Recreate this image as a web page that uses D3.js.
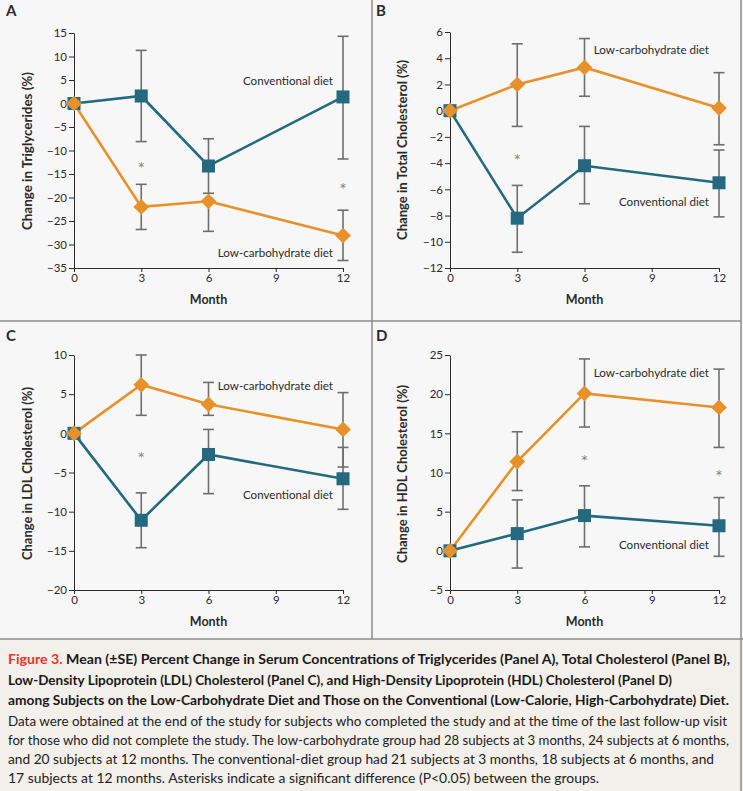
<!DOCTYPE html>
<html>
<head>
<meta charset="utf-8">
<script src="https://cdn.jsdelivr.net/npm/d3@7"></script>
<style>
  body { margin: 0; background: #fff; }
  svg { display: block; font-family: Lato, "Open Sans", sans-serif; }
</style>
</head>
<body>
<svg id="fig" width="743" height="791"></svg>
<script>
// data
const months = [0, 3, 6, 12];
const monthTicks = [0, 3, 6, 9, 12];

// Panel A - triglycerides
const tgLow = [0, -22.0, -20.8, -28.1];
const tgLowHi = [null, -17.2, null, -22.7];
const tgLowLo = [null, -26.8, -27.2, -33.4];
const tgConv = [0, 1.6, -13.3, 1.4];
const tgConvHi = [null, 11.3, -7.5, 14.3];
const tgConvLo = [null, -8.1, -19.1, -11.8];
const tgStars = [[3, -13], [12, -17.5]];
const tgTicks = [-35, -30, -25, -20, -15, -10, -5, 0, 5, 10, 15];

// Panel B - total cholesterol
const tcLow = [0, 2.0, 3.3, 0.2];
const tcLowHi = [null, 5.1, 5.5, 2.9];
const tcLowLo = [null, -1.2, 1.1, -2.6];
const tcConv = [0, -8.2, -4.2, -5.5];
const tcConvHi = [null, -5.7, -1.2, -3.0];
const tcConvLo = [null, -10.8, -7.1, -8.1];
const tcStars = [[3, -3.5]];
const tcTicks = [-12, -10, -8, -6, -4, -2, 0, 2, 4, 6];

// Panel C - LDL
const ldlLow = [0, 6.2, 3.7, 0.5];
const ldlLowHi = [null, 10.0, 6.5, 5.2];
const ldlLowLo = [null, 2.3, 2.3, -4.3];
const ldlConv = [0, -11.1, -2.7, -5.8];
const ldlConvHi = [null, -7.6, 0.5, -1.8];
const ldlConvLo = [null, -14.6, -7.7, -9.7];
const ldlStars = [[3, -2.8]];
const ldlTicks = [-20, -15, -10, -5, 0, 5, 10];

// Panel D - HDL
const hdlLow = [0, 11.4, 20.1, 18.3];
const hdlLowHi = [null, 15.2, 24.5, 23.2];
const hdlLowLo = [null, 7.7, 15.8, 13.2];
const hdlConv = [0, 2.2, 4.5, 3.2];
const hdlConvHi = [null, 6.5, 8.3, 6.8];
const hdlConvLo = [null, -2.2, 0.5, -0.7];
const hdlStars = [[6, 11.9], [12, 9.9]];
const hdlTicks = [-5, 0, 5, 10, 15, 20, 25];

const captionBold = [
  "Mean (±SE) Percent Change in Serum Concentrations of Triglycerides (Panel A), Total Cholesterol (Panel B),",
  "Low-Density Lipoprotein (LDL) Cholesterol (Panel C), and High-Density Lipoprotein (HDL) Cholesterol (Panel D)",
  "among Subjects on the Low-Carbohydrate Diet and Those on the Conventional (Low-Calorie, High-Carbohydrate) Diet."
];
const captionText = [
  "Data were obtained at the end of the study for subjects who completed the study and at the time of the last follow-up visit",
  "for those who did not complete the study. The low-carbohydrate group had 28 subjects at 3 months, 24 subjects at 6 months,",
  "and 20 subjects at 12 months. The conventional-diet group had 21 subjects at 3 months, 18 subjects at 6 months, and",
  "17 subjects at 12 months. Asterisks indicate a significant difference (P<0.05) between the groups."
];

const orange = "#e8912a";
const teal = "#236a80";
const barColor = "#6e6e6e";
const ink = "#2b2b2b";

const svg = d3.select("#fig");

// backgrounds and frame
svg.append("rect").attr("x", 0).attr("y", 0).attr("width", 743).attr("height", 639).attr("fill", "#f7f7f7");
svg.append("rect").attr("x", 0).attr("y", 639).attr("width", 743).attr("height", 152).attr("fill", "#f3efea");
const frame = svg.append("g").attr("stroke", "#8c8c8c").attr("stroke-width", 1.5);
frame.append("line").attr("x1", 372).attr("x2", 372).attr("y1", 0).attr("y2", 639);
frame.append("line").attr("x1", 0).attr("x2", 741).attr("y1", 321).attr("y2", 321);
frame.append("line").attr("x1", 741).attr("x2", 741).attr("y1", 0).attr("y2", 791);
frame.append("line").attr("x1", 0).attr("x2", 743).attr("y1", 639).attr("y2", 639);

const panels = [
  {letter: "A", ox: 0, oy: 0, left: 74, right: 343, top: 33, bottom: 268,
   title: "Change in Triglycerides (%)", titleLen: 158, titleX: 28, titleY: 151,
   domain: [-35, 15], ticks: tgTicks,
   low: [tgLow, tgLowHi, tgLowLo], conv: [tgConv, tgConvHi, tgConvLo], stars: tgStars,
   lowLabel: -31.9, convLabel: 4.9},
  {letter: "B", ox: 370, oy: 0, left: 80, right: 349, top: 32, bottom: 268,
   title: "Change in Total Cholesterol (%)", titleLen: 180, titleX: 33, titleY: 150,
   domain: [-12, 6], ticks: tcTicks,
   low: [tcLow, tcLowHi, tcLowLo], conv: [tcConv, tcConvHi, tcConvLo], stars: tcStars,
   lowLabel: 4.65, convLabel: -6.95},
  {letter: "C", ox: 0, oy: 320, left: 74, right: 343, top: 35, bottom: 270,
   title: "Change in LDL Cholesterol (%)", titleLen: 173, titleX: 28, titleY: 153.5,
   domain: [-20, 10], ticks: ldlTicks,
   low: [ldlLow, ldlLowHi, ldlLowLo], conv: [ldlConv, ldlConvHi, ldlConvLo], stars: ldlStars,
   lowLabel: 6.05, convLabel: -7.9},
  {letter: "D", ox: 370, oy: 320, left: 80, right: 349, top: 35, bottom: 270,
   title: "Change in HDL Cholesterol (%)", titleLen: 178, titleX: 33, titleY: 154,
   domain: [-5, 25], ticks: hdlTicks,
   low: [hdlLow, hdlLowHi, hdlLowLo], conv: [hdlConv, hdlConvHi, hdlConvLo], stars: hdlStars,
   lowLabel: 22.7, convLabel: 0.8}
];

panels.forEach(function(p) {
  const g = svg.append("g").attr("transform", "translate(" + p.ox + "," + p.oy + ")");
  const x = d3.scaleLinear().domain([0, 12]).range([p.left, p.right]);
  const y = d3.scaleLinear().domain(p.domain).range([p.bottom, p.top]);

  g.append("text").attr("x", 6).attr("y", p.oy ? 21 : 16)
    .attr("font-size", 15).attr("font-weight", 700).attr("fill", ink).text(p.letter);

  // axes
  const yAxis = g.append("g").attr("transform", "translate(" + p.left + ",0)")
    .call(d3.axisLeft(y).tickValues(p.ticks).tickSize(5).tickSizeOuter(0).tickPadding(2));
  const xAxis = g.append("g").attr("transform", "translate(0," + p.bottom + ")")
    .call(d3.axisBottom(x).tickValues(monthTicks).tickSize(4).tickSizeOuter(0).tickPadding(2));
  [yAxis, xAxis].forEach(function(a) {
    a.selectAll("path, line").attr("stroke", ink).attr("stroke-width", 1);
    a.selectAll("text").attr("fill", ink).attr("font-size", 11.5).attr("font-family", "Lato, sans-serif");
  });

  g.append("text").attr("x", (p.left + p.right) / 2).attr("y", p.bottom + 36)
    .attr("text-anchor", "middle").attr("font-size", 12.5).attr("font-weight", 700)
    .attr("fill", ink).text("Month");
  g.append("text")
    .attr("transform", "translate(" + (p.titleX + 4) + "," + p.titleY + ") rotate(-90)")
    .attr("text-anchor", "middle").attr("font-size", 12.5).attr("font-weight", 700)
    .attr("textLength", p.titleLen).attr("lengthAdjust", "spacingAndGlyphs")
    .attr("fill", ink).text(p.title);

  // error bars
  function bars(series) {
    const pts = [];
    months.forEach(function(m, i) {
      if (series[1][i] != null) pts.push({m: m, a: series[0][i], b: series[1][i]});
      if (series[2][i] != null) pts.push({m: m, a: series[0][i], b: series[2][i]});
    });
    const bg = g.append("g").attr("stroke", barColor).attr("stroke-width", 1.6);
    bg.selectAll(".v").data(pts).enter().append("line")
      .attr("x1", d => x(d.m)).attr("x2", d => x(d.m))
      .attr("y1", d => y(d.a)).attr("y2", d => y(d.b));
    bg.selectAll(".c").data(pts).enter().append("line")
      .attr("x1", d => x(d.m) - 5.5).attr("x2", d => x(d.m) + 5.5)
      .attr("y1", d => y(d.b)).attr("y2", d => y(d.b));
  }
  bars(p.conv);
  bars(p.low);

  const line = d3.line().x((d, i) => x(months[i])).y(d => y(d));
  g.append("path").datum(p.conv[0]).attr("d", line).attr("fill", "none")
    .attr("stroke", teal).attr("stroke-width", 2.6);
  g.append("path").datum(p.low[0]).attr("d", line).attr("fill", "none")
    .attr("stroke", orange).attr("stroke-width", 2.6);

  g.selectAll(".sq").data(p.conv[0]).enter().append("rect")
    .attr("x", (d, i) => x(months[i]) - 6.5).attr("y", d => y(d) - 6.5)
    .attr("width", 13).attr("height", 13).attr("fill", teal);
  g.selectAll(".dm").data(p.low[0]).enter().append("path")
    .attr("d", d3.symbol().type(d3.symbolSquare).size(124))
    .attr("transform", (d, i) => "translate(" + x(months[i]) + "," + y(d) + ") rotate(45)")
    .attr("fill", orange);

  g.selectAll(".star").data(p.stars).enter().append("text")
    .attr("x", d => x(d[0])).attr("y", d => y(d[1]) + 6)
    .attr("text-anchor", "middle").attr("font-size", 12)
    .attr("font-family", "'DejaVu Sans', sans-serif").attr("fill", "#808080")
    .text("*");

  g.append("text").attr("x", x(12) - 10).attr("y", y(p.lowLabel)).attr("dy", "0.35em")
    .attr("text-anchor", "end").attr("font-size", 11.6).attr("fill", ink).text("Low-carbohydrate diet");
  g.append("text").attr("x", x(12) - 10).attr("y", y(p.convLabel)).attr("dy", "0.35em")
    .attr("text-anchor", "end").attr("font-size", 11.6).attr("fill", ink).text("Conventional diet");
});

// caption
const boldEnds = [730, 672, 729];
const textEnds = [727, 729, 714, 599];
const boldBase = [664, 684.5, 704.5];
const textBase = [725.5, 745, 764, 782.5];
captionBold.forEach(function(s, i) {
  const t = svg.append("text").attr("x", 8).attr("y", boldBase[i])
    .attr("font-size", 13.2).attr("font-weight", 700).attr("fill", "#1a1a1a")
    .attr("textLength", boldEnds[i] - 8).attr("lengthAdjust", "spacingAndGlyphs");
  if (i === 0) {
    t.append("tspan").attr("fill", "#e8342c").text("Figure 3. ");
  }
  t.append("tspan").text(s);
});
captionText.forEach(function(s, i) {
  svg.append("text").attr("x", 8).attr("y", textBase[i])
    .attr("font-size", 13).attr("fill", "#222")
    .attr("textLength", textEnds[i] - 8).attr("lengthAdjust", "spacingAndGlyphs")
    .text(s);
});
</script>
</body>
</html>
